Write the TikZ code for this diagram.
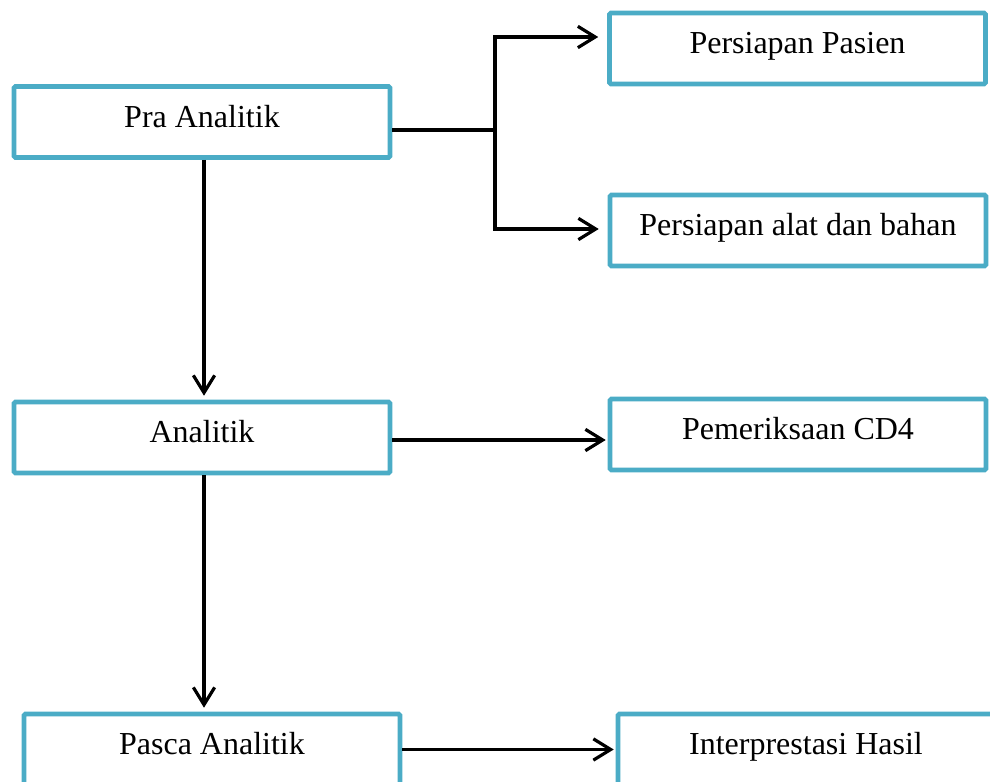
\documentclass[tikz,border=0pt]{standalone}
\usepackage{fontspec}
\setmainfont{Liberation Serif}
\usetikzlibrary{arrows.meta, calc}
\definecolor{boxLine}{HTML}{4BACC6}
\tikzset{
  phase/.style={
    draw=boxLine, line width=3.4pt, rounded corners=1pt,
    fill=white, align=center, inner sep=0pt,
    minimum width=282pt, minimum height=53.25pt,
    text height=0.9em, text depth=0.1em,
    font=\fontsize{24}{28}\selectfont, text=black
  },
  link/.style={line width=2.4pt, draw=black, line join=miter},
  flow/.style={link, -{Straight Barb[length=13pt, width=16pt, line width=2.4pt]}},
}
\begin{document}
\begin{tikzpicture}[x=0.75pt, y=-0.75pt]
  \path[use as bounding box, clip] (0,0) rectangle (990,782);
  % left column
  \node[phase] (pra) at (202,122) {Pra Analitik};
  \node[phase] (analitik) at (202,437.5) {Analitik};
  \node[phase] (pasca) at (212,749.5) {Pasca Analitik};
  % right column
  \node[phase] (pasien) at (797.5,48.5) {Persiapan Pasien};
  \node[phase] (alat) at (798,230.5) {Persiapan alat dan bahan};
  \node[phase] (cd4) at (798,434.5) {Pemeriksaan CD4};
  \node[phase] (hasil) at (806,749.5) {Interprestasi Hasil};
  % fork out of Pra Analitik
  \coordinate (fork) at (495,130);
  \draw[link] (pra.east |- fork) -- (fork);
  \draw[flow, shorten >=6.75pt] (fork) |- ($(pasien.west)+(0,-11.5)$);
  \draw[flow, shorten >=6.75pt] (fork) |- ($(alat.west)+(0,-1.5)$);
  % main line
  \draw[flow, shorten >=3pt] (pra.south -| 204,0) -- (analitik.north -| 204,0);
  \draw[flow, shorten >=3pt] (analitik.south -| 204,0) -- (pasca.north -| 204,0);
  \draw[flow, shorten >=1.5pt] ($(analitik.east)+(0,2.5)$) -- ($(cd4.west)+(0,5.5)$);
  \draw[flow, shorten >=1.5pt] (pasca.east) -- (hasil.west);
\end{tikzpicture}
\end{document}
